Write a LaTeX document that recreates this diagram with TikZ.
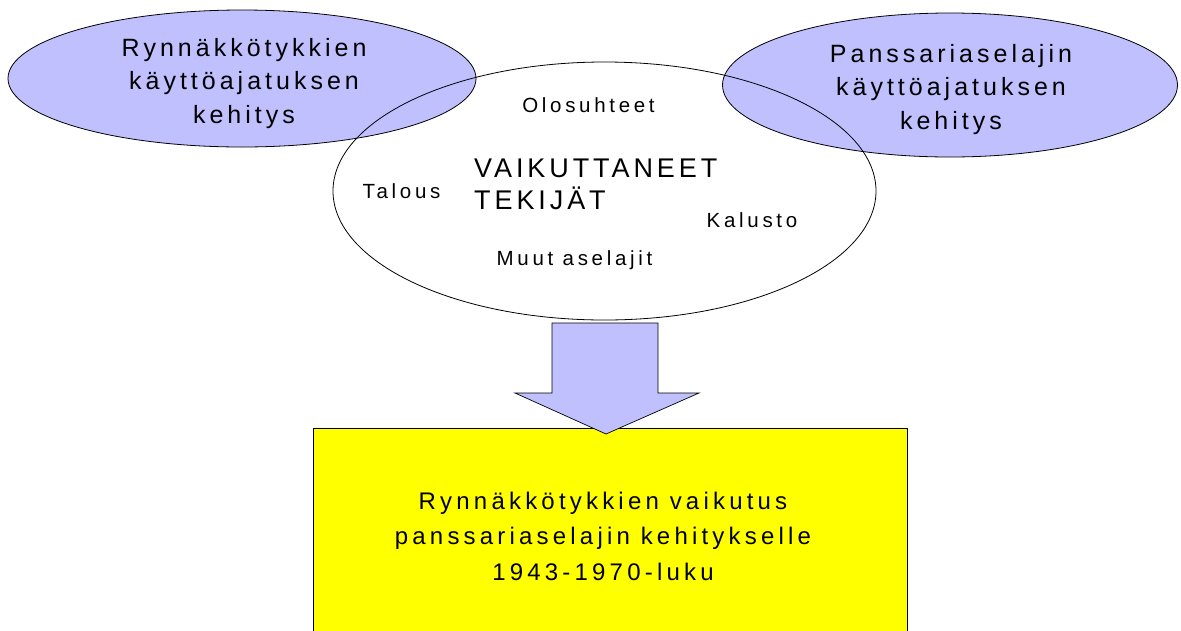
\documentclass[tikz,border=0pt]{standalone}
\usepackage{fontspec}
\setmainfont{Liberation Sans}
\newfontfamily\ovalf[LetterSpace=16]{Liberation Sans}
\newfontfamily\vaikf[LetterSpace=14.5]{Liberation Sans}
\newfontfamily\botf[LetterSpace=17.5]{Liberation Sans}
\newfontfamily\smallf[LetterSpace=18]{Liberation Sans}
\usetikzlibrary{shapes.geometric}
\definecolor{lav}{RGB}{192,192,255}
\definecolor{yel}{RGB}{255,255,0}
\begin{document}
\begin{tikzpicture}[x=1pt,y=-1pt,
  oval/.style={ellipse, draw=black, line width=0.8pt, inner sep=0pt},
  ovaltext/.style={align=center, font=\ovalf\fontsize{25}{33.3}\selectfont, inner sep=0pt},
  headtext/.style={align=left, font=\vaikf\fontsize{27}{32}\selectfont, inner sep=0pt},
  bottext/.style={align=center, font=\botf\fontsize{24}{35.5}\selectfont, inner sep=0pt},
  smalltext/.style={font=\smallf\fontsize{20.5}{24}\selectfont, inner sep=0pt}]
\useasboundingbox (0,0) rectangle (1181,630);
\clip (0,0) rectangle (1181,630);
\fill[white] (0,0) rectangle (1181,630);
\node[oval, fill=lav, minimum width=468pt, minimum height=137pt] (le) at (242,78.5) {};
\node[oval, fill=lav, minimum width=455pt, minimum height=144pt] (re) at (950,85) {};
\node[oval, minimum width=543pt, minimum height=258pt] (ce) at (604.5,191) {};
\node[ovaltext] (lt) at (244,83.5) {Rynnäkkötykkien\\käyttöajatuksen\\kehitys};
\node[ovaltext] (rt) at (951,89.5) {Panssariaselajin\\käyttöajatuksen\\kehitys};
\node[headtext, anchor=west] (vt) at (474,184.8) {VAIKUTTANEET\\TEKIJÄT};
\node[smalltext] (olo) at (588.5,104.8) {Olosuhteet};
\node[smalltext] (tal) at (401.5,191.3) {Talous};
\node[smalltext] (kal) at (752,220) {Kalusto};
\node[smalltext] (muu) at (574.5,260) {Muut aselajit};
\node[rectangle, draw=black, line width=0.8pt, fill=yel, anchor=north west, minimum width=594pt, minimum height=260pt] (box) at (313,428) {};
\draw[fill=lav, line width=0.7pt, line join=miter] (552,323) -- (658,323) -- (658,393) -- (699,393) -- (606,434) -- (515,393) -- (552,393) -- cycle;
\node[bottext] (bt) at (603,536) {Rynnäkkötykkien vaikutus\\panssariaselajin kehitykselle\\1943-1970-luku};
\end{tikzpicture}
\end{document}
